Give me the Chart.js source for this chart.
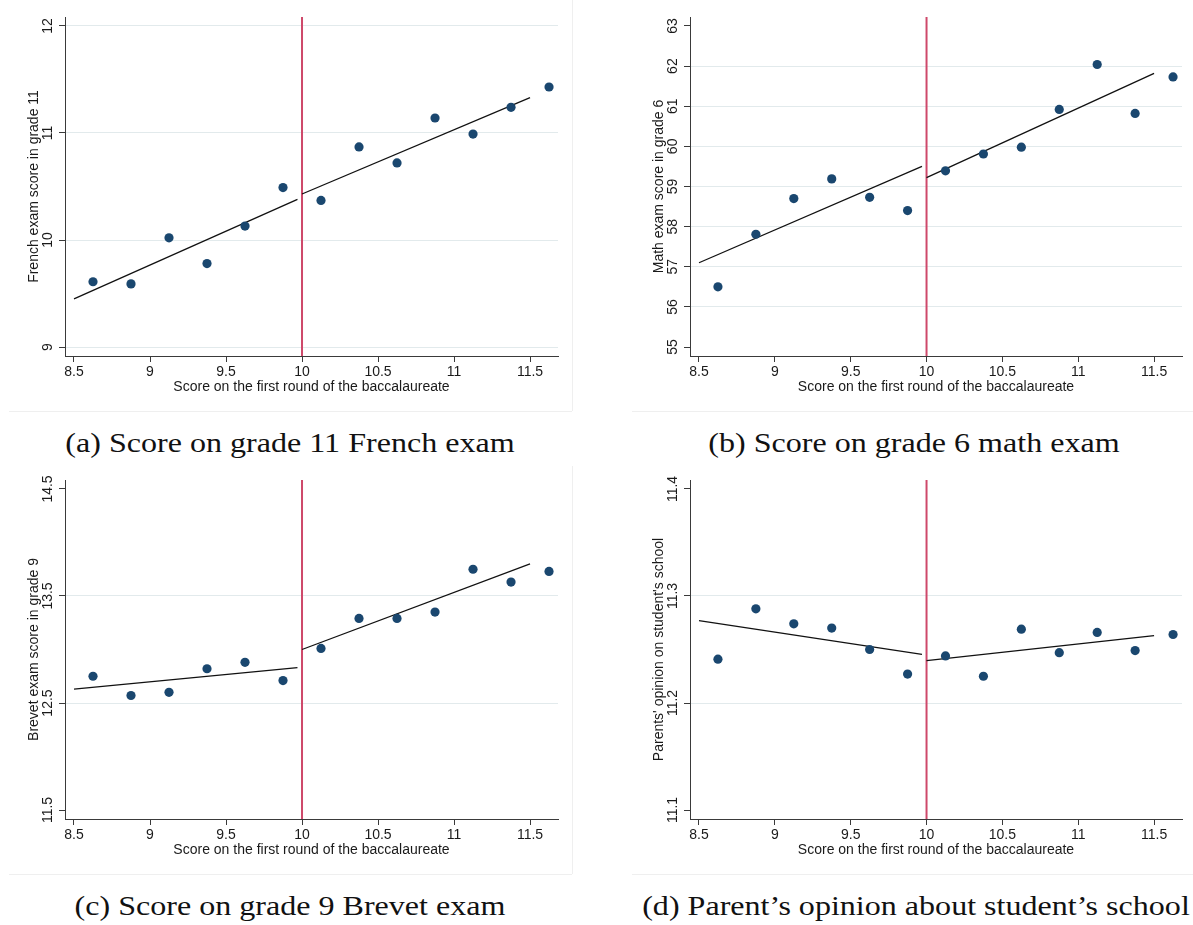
<!DOCTYPE html>
<html>
<head>
<meta charset="utf-8">
<script src="https://cdn.jsdelivr.net/npm/chart.js@4.4.1/dist/chart.umd.min.js"></script>
<style>
    body { margin: 0; background: #fff; width: 1193px; height: 925px; position: relative; overflow: hidden; }
    canvas { position: absolute; }
    .edge { position: absolute; background: #efefef; }
    .caption {
        position: absolute;
        font-family: "Liberation Serif", "DejaVu Serif", serif;
        font-size: 28px;
        color: #111;
        white-space: nowrap;
        transform: translate(-50%, -50%) scaleX(1.145);
    }
</style>
</head>
<body>

<canvas id="panelA" width="572" height="411" style="left:0;top:0"></canvas>
<canvas id="panelB" width="568" height="411" style="left:625px;top:0"></canvas>
<canvas id="panelC" width="572" height="411" style="left:0;top:463px"></canvas>
<canvas id="panelD" width="568" height="411" style="left:625px;top:463px"></canvas>

<!-- light frame edges of the exported graphs -->
<div class="edge" style="left:9px;top:411px;width:563px;height:1px"></div>
<div class="edge" style="left:572px;top:0;width:1px;height:411px"></div>
<div class="edge" style="left:632px;top:411px;width:561px;height:1px"></div>
<div class="edge" style="left:9px;top:874px;width:563px;height:1px"></div>
<div class="edge" style="left:572px;top:466px;width:1px;height:408px"></div>
<div class="edge" style="left:632px;top:874px;width:561px;height:1px"></div>

<div class="caption" style="left:290px;top:443px">(a) Score on grade 11 French exam</div>
<div class="caption" style="left:914px;top:443px">(b) Score on grade 6 math exam</div>
<div class="caption" style="left:290px;top:906px">(c) Score on grade 9 Brevet exam</div>
<div class="caption" style="left:916px;top:906px">(d) Parent’s opinion about student’s school</div>

<script>
// bin midpoints of the baccalaureate score (running variable)
const binCenters = [8.625, 8.875, 9.125, 9.375, 9.625, 9.875, 10.125, 10.375, 10.625, 10.875, 11.125, 11.375, 11.625];
const xTicks = [8.5, 9, 9.5, 10, 10.5, 11, 11.5];
const xTitle = 'Score on the first round of the baccalaureate';
const cutoff = 10;
const fitLeftX = [8.5, 9.97];
const fitRightX = [10, 11.5];

// (a) French exam, grade 11
const frenchScores = [9.61, 9.59, 10.02, 9.78, 10.13, 10.49, 10.37, 10.87, 10.72, 11.14, 10.99, 11.24, 11.43];
const frenchFitLeft = [9.45, 10.38];
const frenchFitRight = [10.43, 11.33];
const frenchTicks = [9, 10, 11, 12];
const frenchGrid = [9, 10, 11, 12];

// (b) math exam, grade 6
const mathScores = [56.50, 57.81, 58.70, 59.19, 58.73, 58.40, 59.39, 59.81, 59.98, 60.92, 62.04, 60.82, 61.73];
const mathFitLeft = [57.10, 59.50];
const mathFitRight = [59.22, 61.82];
const mathTicks = [55, 56, 57, 58, 59, 60, 61, 62, 63];
const mathGrid = [56, 57, 58, 59, 60, 61, 62];

// (c) Brevet exam, grade 9
const brevetScores = [12.75, 12.57, 12.60, 12.82, 12.88, 12.71, 13.01, 13.29, 13.29, 13.35, 13.75, 13.63, 13.73];
const brevetFitLeft = [12.63, 12.83];
const brevetFitRight = [13.00, 13.80];
const brevetTicks = [11.5, 12.5, 13.5, 14.5];
const brevetGrid = [12.5, 13.5];

// (d) parents' opinion on the school
const opinionScores = [11.241, 11.288, 11.274, 11.270, 11.250, 11.227, 11.244, 11.225, 11.269, 11.247, 11.266, 11.249, 11.264];
const opinionFitLeft = [11.277, 11.2455];
const opinionFitRight = [11.2396, 11.263];
const opinionTicks = [11.1, 11.2, 11.3, 11.4];
const opinionGrid = [11.2, 11.3];

const NAVY = '#1a476f';
const CUTOFF_RED = 'rgb(206, 72, 106)';
const AXIS = '#3a3a3a';
const GRID = 'rgb(226, 234, 236)';
const TEXT = '#1a1a1a';
const labelFont = { family: '"Liberation Sans", Arial, sans-serif', size: 14 };

function toPoints(xs, ys) {
    return xs.map((x, i) => ({ x: x, y: ys[i] }));
}

function renderPanel(id, p) {
    const ctx = document.getElementById(id)?.getContext('2d');
    if (!ctx) {
        console.warn('canvas ' + id + ' not found');
        return;
    }

    new Chart(ctx, {
        type: 'scatter',
        data: {
            datasets: [
                {
                    data: toPoints(binCenters, p.values),
                    backgroundColor: NAVY,
                    borderWidth: 0,
                    pointRadius: 4.6,
                    pointHoverRadius: 4.6
                },
                {
                    data: toPoints(fitLeftX, p.fitLeft),
                    showLine: true,
                    borderColor: '#111',
                    borderWidth: 1.3,
                    pointRadius: 0
                },
                {
                    data: toPoints(fitRightX, p.fitRight),
                    showLine: true,
                    borderColor: '#111',
                    borderWidth: 1.3,
                    pointRadius: 0
                },
                {
                    data: [{ x: cutoff, y: p.yMin }, { x: cutoff, y: p.yMax }],
                    showLine: true,
                    borderColor: CUTOFF_RED,
                    borderWidth: 2,
                    pointRadius: 0
                }
            ]
        },
        options: {
            responsive: false,
            animation: false,
            events: [],
            layout: { padding: { top: 17, right: p.padRight, left: 0, bottom: 0 } },
            plugins: {
                legend: { display: false },
                tooltip: { enabled: false }
            },
            scales: {
                x: {
                    type: 'linear',
                    min: 8.4408,
                    max: 11.684,
                    afterBuildTicks: s => { s.ticks = xTicks.map(v => ({ value: v })); },
                    afterFit: s => { s.height = 55; },
                    grid: { drawOnChartArea: false, tickLength: 6, tickColor: AXIS, tickWidth: 1 },
                    border: { color: AXIS, width: 1 },
                    ticks: {
                        font: labelFont,
                        color: TEXT,
                        padding: 2,
                        maxRotation: 0,
                        autoSkip: false,
                        callback: v => String(v)
                    },
                    title: {
                        display: true,
                        text: xTitle,
                        font: labelFont,
                        color: TEXT,
                        padding: { top: 0, bottom: 15 }
                    }
                },
                y: {
                    type: 'linear',
                    min: p.yMin,
                    max: p.yMax,
                    afterBuildTicks: s => { s.ticks = p.ticks.map(v => ({ value: v })); },
                    afterFit: s => { s.width = 65; },
                    grid: {
                        color: c => (c.tick && p.grid.includes(c.tick.value)) ? GRID : 'rgba(0,0,0,0)',
                        lineWidth: 1,
                        tickLength: 6,
                        tickColor: AXIS,
                        tickWidth: 1
                    },
                    border: { color: AXIS, width: 1 },
                    ticks: {
                        font: labelFont,
                        color: TEXT,
                        minRotation: 90,
                        maxRotation: 90,
                        crossAlign: 'center',
                        padding: p.tickPad,
                        autoSkip: false,
                        callback: v => String(v)
                    },
                    title: {
                        display: true,
                        text: p.yTitle,
                        font: labelFont,
                        color: TEXT,
                        padding: { top: 25.6, bottom: 0 }
                    }
                }
            }
        }
    });
}

renderPanel('panelA', {
    values: frenchScores, fitLeft: frenchFitLeft, fitRight: frenchFitRight,
    ticks: frenchTicks, grid: frenchGrid, yMin: 8.916, yMax: 12.084,
    yTitle: 'French exam score in grade 11', tickPad: 3.2, padRight: 14
});

renderPanel('panelB', {
    values: mathScores, fitLeft: mathFitLeft, fitRight: mathFitRight,
    ticks: mathTicks, grid: mathGrid, yMin: 54.776, yMax: 63.224,
    yTitle: 'Math exam score in grade 6', tickPad: 3.2, padRight: 11
});

renderPanel('panelC', {
    values: brevetScores, fitLeft: brevetFitLeft, fitRight: brevetFitRight,
    ticks: brevetTicks, grid: brevetGrid, yMin: 11.416, yMax: 14.584,
    yTitle: 'Brevet exam score in grade 9', tickPad: -2.6, padRight: 14
});

renderPanel('panelD', {
    values: opinionScores, fitLeft: opinionFitLeft, fitRight: opinionFitRight,
    ticks: opinionTicks, grid: opinionGrid, yMin: 11.0916, yMax: 11.4084,
    yTitle: "Parents' opinion on student's school", tickPad: -2.6, padRight: 11
});
</script>
</body>
</html>
